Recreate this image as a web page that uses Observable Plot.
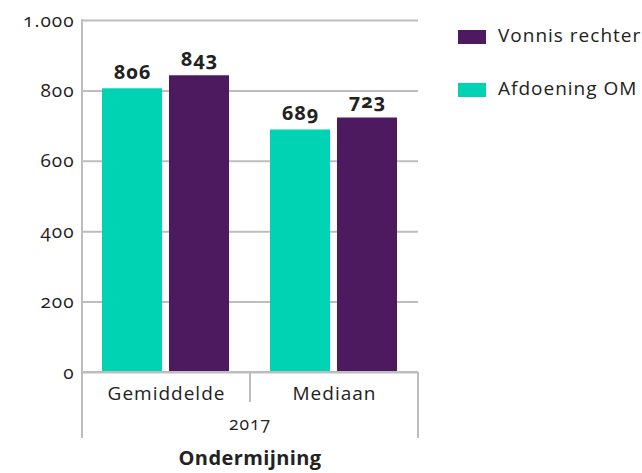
<!DOCTYPE html>
<html>
<head>
<meta charset="utf-8">
<script src="https://cdn.jsdelivr.net/npm/d3@7"></script>
<script src="https://cdn.jsdelivr.net/npm/@observablehq/plot@0.6"></script>
<style>
  html, body { margin: 0; padding: 0; background: #fff; }
  #chart { width: 642px; height: 473px; }
  #chart svg, #chart svg text { font-variant-numeric: oldstyle-nums; letter-spacing: 1px; }
</style>
</head>
<body>
<div id="chart"></div>
<script>
const categories = ["Gemiddelde", "Mediaan"];
const series = ["Afdoening OM", "Vonnis rechter"];
const afdoeningOM = [806, 689];
const vonnisRechter = [843, 723];
const yTicks = [0, 200, 400, 600, 800, 1000];
const colors = ["#00d2b4", "#4e1a5f"];
const groupLabel = "2017";
const titleLabel = "Ondermijning";

const FONT = "'Open Sans', Lato, sans-serif";
const data = [];
categories.forEach((c, i) => {
  data.push({category: c, series: series[0], value: afdoeningOM[i]});
  data.push({category: c, series: series[1], value: vonnisRechter[i]});
});
const fmt = d => d3.format(",")(d).replace(/,/g, ".");

const plot = Plot.plot({
  width: 642,
  height: 473,
  marginLeft: 81,
  marginRight: 224,
  marginTop: 20,
  marginBottom: 101,
  style: {fontFamily: FONT, fontSize: "17px", color: "#222", background: "#fff"},
  fx: {domain: categories, padding: 0, label: null},
  x: {domain: series, paddingInner: 0.1, paddingOuter: 0.3, axis: null},
  y: {domain: [0, 1000], label: null},
  color: {domain: series, range: colors},
  marks: [
    Plot.gridY(yTicks, {stroke: "#bdbdbd", strokeOpacity: 1, strokeWidth: 2}),
    Plot.axisY(yTicks, {tickSize: 0, tickPadding: 8, tickFormat: fmt, fontSize: 19, label: null}),
    Plot.axisFx({anchor: "bottom", tickSize: 0, tickPadding: 14, fontSize: 19, label: null}),
    Plot.barY(data, {fx: "category", x: "series", y: "value", fill: "series"}),
    Plot.text(data, {fx: "category", x: "series", y: "value", text: d => fmt(d.value),
      lineAnchor: "bottom", dy: -10, fontWeight: "bold", fontSize: 20, fill: "#222"})
  ]
});

document.getElementById("chart").appendChild(plot);

// Decorations: frame lines and group labels
const svg = d3.select(plot);
const fx = plot.scale("fx");
const y = plot.scale("y");
const y0 = y.apply(0), yTop = y.apply(1000);
const left = fx.apply(categories[0]);
const right = fx.apply(categories[categories.length - 1]) + fx.bandwidth;
const g = svg.append("g").attr("stroke", "#bdbdbd").attr("stroke-width", 2);
g.append("line").attr("x1", left).attr("x2", right).attr("y1", y0).attr("y2", y0);
g.append("line").attr("x1", left).attr("x2", left).attr("y1", yTop - 1).attr("y2", y0 + 66);
g.append("line").attr("x1", right).attr("x2", right).attr("y1", y0).attr("y2", y0 + 66);
for (let i = 1; i < categories.length; i++) {
  const xb = fx.apply(categories[i]);
  g.append("line").attr("x1", xb).attr("x2", xb).attr("y1", y0).attr("y2", y0 + 30);
}
function addText(sel, x, yy, txt, size, weight, anchor, spacing) {
  return sel.append("text").attr("x", x).attr("y", yy)
    .attr("text-anchor", anchor).attr("dominant-baseline", "middle")
    .style("text-anchor", anchor).style("font-family", FONT).style("font-size", size + "px")
    .style("letter-spacing", spacing + "px")
    .style("font-weight", weight).style("fill", "#222").text(txt);
}
addText(svg, (left + right) / 2, y0 + 53, groupLabel, 17.5, "normal", "middle", 1);
addText(svg, (left + right) / 2, y0 + 88, titleLabel, 20, "bold", "middle", 0.4);

// Legend (Vonnis rechter first)
const legendItems = series.map((s, i) => ({s, c: colors[i]})).reverse();
const lg = svg.append("g");
legendItems.forEach((d, i) => {
  const ly = 37 + i * 53;
  lg.append("rect").attr("x", 458).attr("y", ly - 7).attr("width", 28).attr("height", 14).attr("fill", d.c);
  addText(lg, 498, ly, d.s, 19, "normal", "start", 1);
});
</script>
</body>
</html>
